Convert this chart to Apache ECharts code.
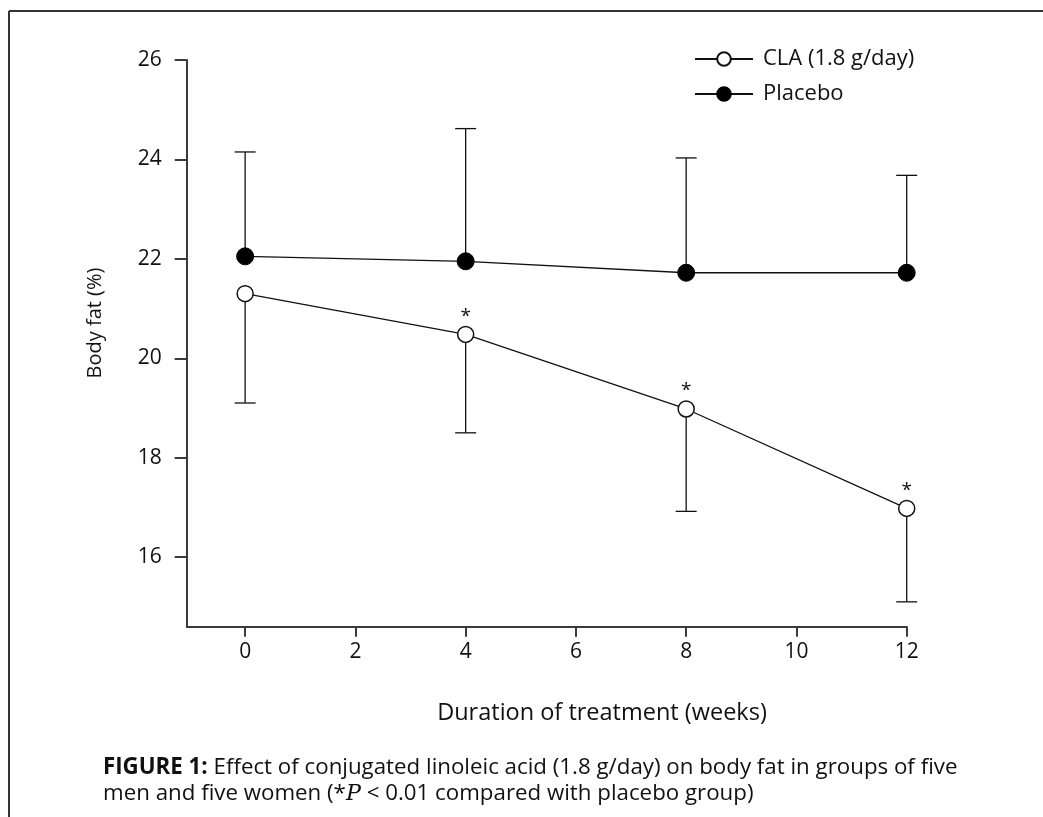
<!DOCTYPE html>
<html>
<head>
<meta charset="utf-8">
<script src="https://cdn.jsdelivr.net/npm/echarts@6/dist/echarts.min.js"></script>
<style>
  html, body { margin: 0; padding: 0; background: #fff; }
  #main { width: 1043px; height: 817px; }
</style>
</head>
<body>
<div id="main"></div>
<script>
// weeks of treatment
const weeks = [0, 4, 8, 12];
// CLA group: mean and lower end of error bar
const claMean = [21.3, 20.48, 18.98, 16.98];
const claLow = [19.1, 18.5, 16.92, 15.1];
const claSig = [false, true, true, true];
// placebo group: mean and upper end of error bar
const placeboMean = [22.05, 21.95, 21.72, 21.72];
const placeboHigh = [24.15, 24.62, 24.03, 23.68];
// ticks
const xTicks = [0, 2, 4, 6, 8, 10, 12];
const yTicks = [16, 18, 20, 22, 24, 26];

const FONT = '"Open Sans", sans-serif';
const chart = echarts.init(document.getElementById('main'), null, {renderer: 'canvas'});

const errBar = (lo, hi) => weeks.map((w, i) => [w, lo[i], hi[i]]);

function renderErr(params, api) {
  const x = api.value(0);
  const a = api.coord([x, api.value(1)]);
  const b = api.coord([x, api.value(2)]);
  const cap = 10.5;
  // the cap sits on the far end from the mean
  const end = params.seriesName === 'errCLA' ? a : b;
  const style = {stroke: '#111', lineWidth: 1.3};
  return {
    type: 'group',
    children: [
      {type: 'line', shape: {x1: a[0], y1: a[1], x2: b[0], y2: b[1]}, style},
      {type: 'line', shape: {x1: end[0] - cap, y1: end[1], x2: end[0] + cap, y2: end[1]}, style}
    ]
  };
}

chart.setOption({
  animation: false,
  textStyle: {fontFamily: FONT},
  grid: {left: 186.7, right: 136.3, top: 60, bottom: 190.3, containLabel: false, outerBoundsMode: 'none'},
  xAxis: {
    type: 'value',
    min: -1.06,
    max: 12,
    splitLine: {show: false},
    axisLine: {onZero: false, lineStyle: {color: '#3a3a3a', width: 2}},
    axisTick: {customValues: xTicks, length: 10, lineStyle: {color: '#3a3a3a', width: 2}},
    axisLabel: {customValues: xTicks, color: '#111', fontSize: 21, margin: 15, fontFamily: FONT}
  },
  yAxis: {
    type: 'value',
    min: 14.6,
    max: 26,
    splitLine: {show: false},
    axisLine: {onZero: false, lineStyle: {color: '#3a3a3a', width: 2}},
    axisTick: {customValues: yTicks, length: 12, lineStyle: {color: '#3a3a3a', width: 2}},
    axisLabel: {customValues: yTicks, color: '#111', fontSize: 21, margin: 25, fontFamily: FONT}
  },
  legend: {
    orient: 'vertical',
    left: 689,
    top: 43,
    itemWidth: 58,
    itemHeight: 17,
    itemGap: 13,
    textStyle: {fontSize: 22, color: '#111', fontFamily: FONT, padding: [0, 0, 0, 5]},
    data: ['CLA (1.8 g/day)', 'Placebo']
  },
  graphic: [
    {type: 'line', shape: {x1: 9, y1: 11, x2: 1043, y2: 11}, style: {stroke: '#333', lineWidth: 2}},
    {type: 'line', shape: {x1: 9, y1: 11, x2: 9, y2: 817}, style: {stroke: '#333', lineWidth: 2}},
    {type: 'text', x: 95, y: 323, rotation: Math.PI / 2,
      style: {text: 'Body fat (%)', font: '20px ' + FONT, fill: '#111', align: 'center', verticalAlign: 'middle'}},
    {type: 'text', x: 602, y: 713,
      style: {text: 'Duration of treatment (weeks)', font: '23.5px ' + FONT, fill: '#111', align: 'center', verticalAlign: 'middle'}},
    {type: 'text', x: 103, y: 768,
      style: {
        text: '{b|FIGURE 1:} Effect of conjugated linoleic acid (1.8 g/day) on body fat in groups of five',
        font: '22.3px ' + FONT, fill: '#111', verticalAlign: 'middle',
        rich: {b: {fontWeight: 'bold', fontSize: 22.3, fontFamily: FONT}}
      }},
    {type: 'text', x: 103, y: 794,
      style: {
        text: 'men and five women (*{i|P} < 0.01 compared with placebo group)',
        font: '22.3px ' + FONT, fill: '#111', verticalAlign: 'middle',
        rich: {i: {fontStyle: 'italic', fontSize: 22.3, fontFamily: '"DejaVu Serif", serif'}}
      }}
  ],
  series: [
    {
      name: 'errCLA', type: 'custom', renderItem: renderErr,
      data: errBar(claLow, claMean), z: 1
    },
    {
      name: 'errPlacebo', type: 'custom', renderItem: renderErr,
      data: errBar(placeboMean, placeboHigh), z: 1
    },
    {
      name: 'CLA (1.8 g/day)',
      type: 'line',
      z: 3,
      data: weeks.map((w, i) => ({
        value: [w, claMean[i]],
        label: {show: claSig[i], formatter: '*', position: 'top', distance: 0, fontSize: 19, color: '#111'}
      })),
      symbol: 'circle',
      symbolSize: 16,
      showAllSymbol: true,
      lineStyle: {color: '#111', width: 1.3},
      itemStyle: {color: '#fff', borderColor: '#111', borderWidth: 1.5}
    },
    {
      name: 'Placebo',
      type: 'line',
      z: 3,
      data: weeks.map((w, i) => [w, placeboMean[i]]),
      symbol: 'circle',
      symbolSize: 17,
      lineStyle: {color: '#111', width: 1.3},
      itemStyle: {color: '#000', borderColor: '#000', borderWidth: 1}
    }
  ]
});
</script>
</body>
</html>
